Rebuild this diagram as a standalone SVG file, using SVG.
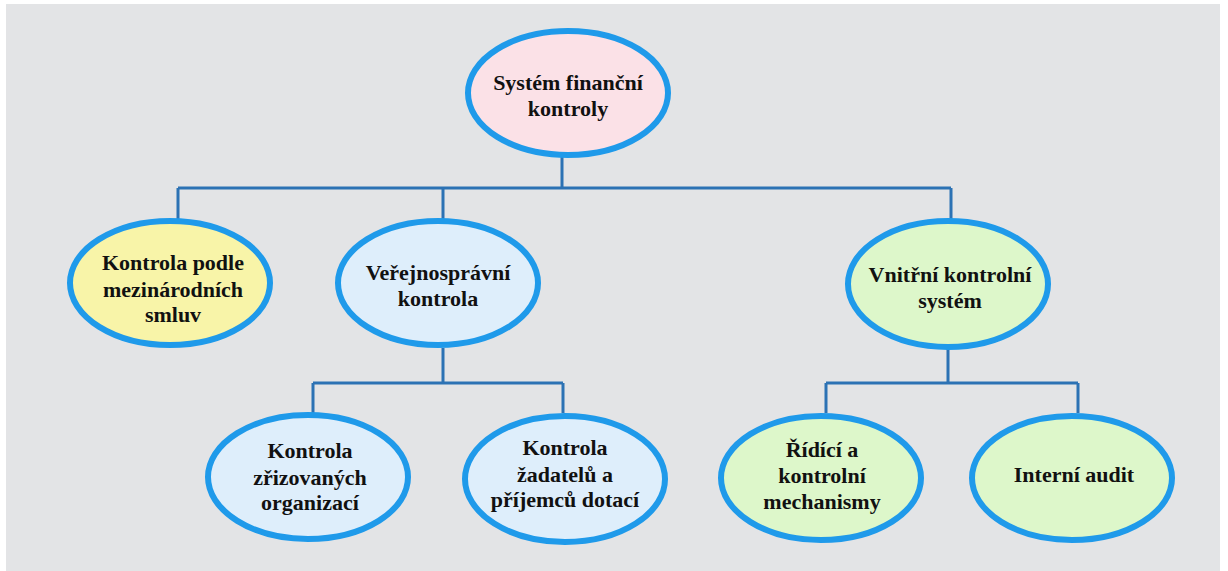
<svg xmlns="http://www.w3.org/2000/svg" width="1228" height="571" viewBox="0 0 1228 571">
  <style>
    .node ellipse { stroke: #1f9aea; stroke-width: 6; }
    .pink { fill: #fbe1e7; }
    .yellow { fill: #f8f4a8; }
    .blue { fill: #deeefb; }
    .green { fill: #ddf7ca; }
    .node text { font-family: "Liberation Serif", "Times New Roman", serif; font-weight: bold; font-size: 22px; fill: #111; text-anchor: middle; }
    #connectors path { fill: none; stroke: #2c72b4; stroke-width: 3; }
  </style>
  <rect x="0" y="0" width="1228" height="571" fill="#ffffff"/>
  <rect x="6" y="4" width="1214" height="567" fill="#e3e4e6"/>

  <g id="connectors">
    <path d="M562 157 V188 M178 188 H951 M178 188 V219 M443 188 V219 M951 188 V219"/>
    <path d="M443 348 V383 M313 383 H563 M313 383 V413 M563 383 V413"/>
    <path d="M948 349 V383 M826 383 H1078 M826 383 V413 M1078 383 V413"/>
  </g>

  <g id="root" class="node">
    <ellipse class="pink" cx="568" cy="93" rx="100" ry="62"/>
    <text x="568" y="90">Systém finanční</text>
    <text x="568" y="116">kontroly</text>
  </g>

  <g id="mezinarodni" class="node">
    <ellipse class="yellow" cx="170" cy="283" rx="100" ry="62"/>
    <text x="173" y="270">Kontrola podle</text>
    <text x="173" y="297">mezinárodních</text>
    <text x="173" y="322">smluv</text>
  </g>

  <g id="verejnospravni" class="node">
    <ellipse class="blue" cx="438" cy="283" rx="100" ry="62"/>
    <text x="438" y="280">Veřejnosprávní</text>
    <text x="438" y="306">kontrola</text>
  </g>

  <g id="vnitrni" class="node">
    <ellipse class="green" cx="948" cy="284" rx="100" ry="63"/>
    <text x="950" y="282">Vnitřní kontrolní</text>
    <text x="950" y="308">systém</text>
  </g>

  <g id="zrizovane" class="node">
    <ellipse class="blue" cx="308" cy="477" rx="100" ry="62"/>
    <text x="310" y="458">Kontrola</text>
    <text x="310" y="485">zřizovaných</text>
    <text x="310" y="510">organizací</text>
  </g>

  <g id="zadatele" class="node">
    <ellipse class="blue" cx="565" cy="479" rx="100" ry="63"/>
    <text x="565" y="455">Kontrola</text>
    <text x="565" y="482">žadatelů a</text>
    <text x="565" y="507">příjemců dotací</text>
  </g>

  <g id="ridici" class="node">
    <ellipse class="green" cx="821" cy="478" rx="100" ry="62"/>
    <text x="822" y="457">Řídící a</text>
    <text x="822" y="483">kontrolní</text>
    <text x="822" y="509">mechanismy</text>
  </g>

  <g id="audit" class="node">
    <ellipse class="green" cx="1072" cy="478" rx="100" ry="62"/>
    <text x="1074" y="482">Interní audit</text>
  </g>
</svg>
